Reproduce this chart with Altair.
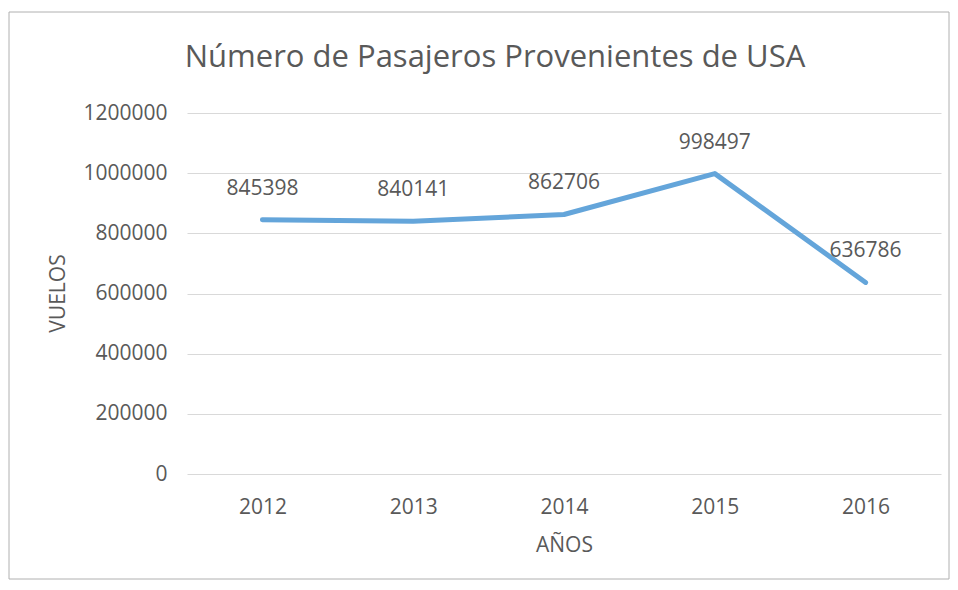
import altair as alt
import pandas as pd

years = ["2012", "2013", "2014", "2015", "2016"]
pasajeros = [845398, 840141, 862706, 998497, 636786]
y_ticks = [0, 200000, 400000, 600000, 800000, 1000000, 1200000]

df = pd.DataFrame({"year": years, "value": pasajeros})

TEXT = "#595959"
FONT = "Open Sans"

x_enc = alt.X(
    "year:O",
    sort=years,
    axis=alt.Axis(
        title="AÑOS",
        labelAngle=0,
        grid=False,
        domain=False,
        ticks=False,
        labelPadding=22,
        titleX=377,
        titleY=71,
        titleBaseline="middle",
    ),
)
y_enc = alt.Y(
    "value:Q",
    scale=alt.Scale(domain=[0, 1200000], nice=False, zero=True),
    axis=alt.Axis(
        title="VUELOS",
        values=y_ticks,
        format="d",
        domain=False,
        ticks=False,
        labelPadding=20,
        titleX=-129,
        titleY=180,
        titleAngle=-90,
        titleBaseline="middle",
        titleAlign="center",
    ),
)

base = alt.Chart(df)

line = base.mark_line(
    color="#64a5da", strokeWidth=5, strokeCap="round", strokeJoin="round"
).encode(x=x_enc, y=y_enc)

labels = base.mark_text(
    dy=-31, fontSize=21, font=FONT, color=TEXT
).encode(x=x_enc, y=y_enc, text=alt.Text("value:Q", format="d"))

border = alt.Chart(pd.DataFrame({"k": [0]})).mark_rect(
    fill=None, stroke="#b0b0b0", strokeWidth=1
).encode(
    x=alt.value(-178), x2=alt.value(762), y=alt.value(-101), y2=alt.value(466)
)

chart = (
    alt.layer(border, line, labels)
    .properties(
        width=754,
        height=361,
        padding={"left": 179, "top": 105, "right": 9, "bottom": 108},
        autosize=alt.AutoSizeParams(type="none"),
        title=alt.TitleParams(
            "Número de Pasajeros Provenientes de USA",
            font=FONT,
            fontSize=31,
            fontWeight="normal",
            color=TEXT,
            anchor="middle",
            dx=-69,
            offset=0,
            dy=86,
            baseline="alphabetic",
        ),
    )
    .configure_view(stroke=None)
    .configure_axis(
        labelFont=FONT,
        labelFontSize=21,
        labelColor=TEXT,
        titleFont=FONT,
        titleFontSize=21,
        titleFontWeight="normal",
        titleColor=TEXT,
        gridColor="#d9d9d9",
        gridWidth=1,
    )
)

chart.save("out.html", embed_options={"renderer": "svg", "actions": False})
